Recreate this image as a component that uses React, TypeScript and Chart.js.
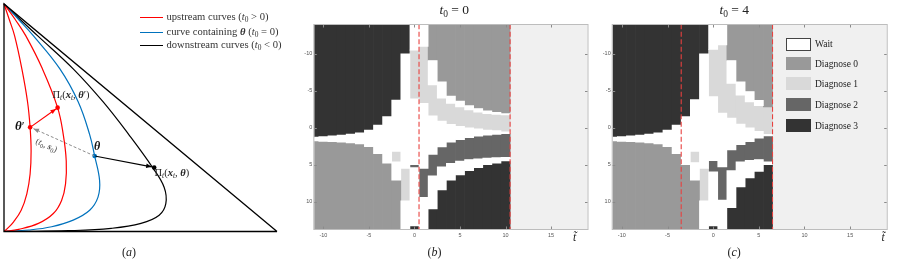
import React, { useEffect, useRef } from 'react';
import { Chart, registerables } from 'chart.js';
Chart.register(...registerables);

type P = [number, number];

// ---------------- panel (a): curves in the simplex ----------------
const triangleOutline: P[] = [[275, 0], [0, 0], [0, 230.5], [275, 0]];
const upstreamCurveInner: P[] = [[0, 230.5], [5.3, 214.8], [10.7, 198.2], [18, 164.8], [23.7, 131.5], [26.3, 105.5], [27.3, 81.5], [26.3, 58.2], [23, 38.2], [17.3, 21.5], [9.7, 9.8], [3, 2.6], [0, 0]];
const upstreamCurveOuter: P[] = [[0, 230.5], [11.3, 214.8], [22, 198.2], [38.7, 164.8], [54, 125.5], [59.7, 98.2], [62.7, 71.5], [62, 48.2], [58, 31.5], [49.7, 18.2], [34.7, 8.2], [14.7, 2.2], [0, 0]];
const thetaCurve: P[] = [[0, 230.5], [14.7, 214.8], [29.7, 198.2], [56.3, 164.8], [74.7, 131.5], [86.3, 98.2], [91.3, 76.5], [96.3, 51.5], [94.7, 34.8], [86.3, 21.5], [69.7, 11.5], [48, 4.8], [24.7, 1.5], [0, 0]];
const downstreamCurve: P[] = [[0, 230.5], [16.3, 214.8], [34, 198.2], [69.7, 164.8], [99.7, 131.5], [125.7, 98.2], [149.7, 64.8], [161.3, 44.8], [163, 28.2], [156.3, 16.5], [138, 8.2], [108, 3.2], [64.7, 0.8], [14.7, 0.1], [0, 0]];
const thetaPrimePoint: P = [26.3, 105.5];
const projThetaPrimePoint: P = [54, 125.5];
const thetaPoint: P = [91.3, 76.5];
const projThetaPoint: P = [151.3, 64.8];
const redArrow: P[] = [thetaPrimePoint, [52.3, 124.2]];
const blackArrow: P[] = [thetaPoint, [148.7, 65.5]];
const shiftArrow: P[] = [thetaPoint, [29.7, 104.2]];

// ---------------- panels (b), (c): policy maps ----------------
const categories = ['Wait', 'Diagnose 0', 'Diagnose 1', 'Diagnose 2', 'Diagnose 3'];
const categoryColors = ['#ffffff', '#999999', '#d9d9d9', '#666666', '#333333'];
const S_MIN = -14;
const S_MAX = 14;
const T_AXIS: P = [-11, 19];
const S_AXIS: P = [-13.9, 13.7];
const tTickValues = [-10, -5, 0, 5, 10, 15];
const sTickValues = [-10, -5, 0, 5, 10];
// each row: t, category, boundary s, category, boundary s, ..., category (top to bottom)
const policyT0Zero: number[][] = [
  [-11, 4, 1.25, 0, 1.8, 1],
  [-10, 4, 1.2, 0, 1.85, 1],
  [-9, 4, 1.1, 0, 1.9, 1],
  [-8, 4, 1.0, 0, 1.95, 1],
  [-7, 4, 0.85, 0, 2.05, 1],
  [-6, 4, 0.7, 0, 2.2, 1],
  [-5, 4, 0.3, 0, 2.55, 1],
  [-4, 4, -0.35, 0, 3.5, 1],
  [-3, 4, -1.5, 0, 4.8, 1],
  [-2, 4, -3.75, 0, 3.2, 2, 4.6, 0, 7.1, 1],
  [-1, 4, -10, 0, 5.5, 2, 9.9, 0],
  [0, 0, -10.5, 2, -3.9, 0, 5.0, 3, 5.4, 0, 13.3, 4],
  [1, 0, -11, 2, -3.3, 0, 5.5, 3, 9.4, 0],
  [2, 1, -9.1, 0, -5.8, 2, -1.6, 0, 3.6, 3, 6.5, 0, 11, 4],
  [3, 1, -6.2, 0, -4.0, 2, -0.9, 0, 2.6, 3, 5.3, 0, 8.4, 4],
  [4, 1, -4.3, 0, -3.3, 2, -0.45, 0, 1.95, 3, 4.8, 0, 7.1, 4],
  [5, 1, -3.6, 0, -2.8, 2, -0.2, 0, 1.6, 3, 4.5, 0, 6.4, 4],
  [6, 1, -3.0, 0, -2.4, 2, 0.0, 0, 1.35, 3, 4.3, 0, 5.8, 4],
  [7, 1, -2.6, 0, -2.1, 2, 0.15, 0, 1.15, 3, 4.2, 0, 5.4, 4],
  [8, 1, -2.3, 0, -1.9, 2, 0.3, 0, 1.0, 3, 4.1, 0, 5.0, 4],
  [9, 1, -2.1, 0, -1.8, 2, 0.4, 0, 0.9, 3, 4.05, 0, 4.8, 4],
  [10, 1, -1.9, 0, -1.75, 2, 0.55, 0, 0.8, 3, 4.0, 0, 4.5, 4],
];
const policyT0Four: number[][] = [
  [-11, 4, 1.25, 0, 1.8, 1],
  [-10, 4, 1.2, 0, 1.85, 1],
  [-9, 4, 1.1, 0, 1.9, 1],
  [-8, 4, 1.0, 0, 1.95, 1],
  [-7, 4, 0.85, 0, 2.05, 1],
  [-6, 4, 0.7, 0, 2.2, 1],
  [-5, 4, 0.3, 0, 2.55, 1],
  [-4, 4, -0.35, 0, 3.5, 1],
  [-3, 4, -1.5, 0, 5.0, 1],
  [-2, 4, -3.8, 0, 3.2, 2, 4.7, 0, 7.1, 1],
  [-1, 4, -10, 0, 5.5, 2, 9.9, 0],
  [0, 0, -10.6, 2, -4.2, 0, 4.45, 3, 5.95, 0, 13.3, 4],
  [1, 0, -11.2, 2, -2.0, 0, 5.3, 3, 9.8, 0],
  [2, 1, -9.1, 0, -6.0, 2, -1.3, 0, 3.0, 3, 5.8, 0, 10.8, 4],
  [3, 1, -6.2, 0, -4.4, 2, -0.5, 0, 2.3, 3, 4.6, 0, 8.0, 4],
  [4, 1, -4.9, 0, -3.5, 2, 0.0, 0, 1.9, 3, 4.4, 0, 6.8, 4],
  [5, 1, -3.7, 0, -3.0, 2, 0.5, 0, 1.4, 3, 4.3, 0, 5.9, 4],
  [6, 1, -2.8, 2, 0.9, 0, 1.1, 3, 4.6, 0, 5.0, 4],
];
const cutT0Zero = [0.5, 10.5];
const cutT0Four = [-3.5, 6.5];

function toSegments(rows: number[][]) {
  const segs: { c: number; t: number; lo: number; hi: number }[] = [];
  rows.forEach((row) => {
    const t = row[0];
    let lo = S_MIN;
    for (let i = 1; i < row.length; i += 2) {
      const hi = i + 1 < row.length ? row[i + 1] : S_MAX;
      segs.push({ c: row[i], t, lo, hi });
      lo = hi;
    }
  });
  return segs;
}

const frameAndTicks = {
  id: 'frameAndTicks',
  beforeDatasetsDraw(chart: any) {
    const { ctx, chartArea: a } = chart;
    ctx.save();
    ctx.fillStyle = '#f0f0f0';
    ctx.fillRect(a.left, a.top, a.right - a.left, a.bottom - a.top);
    ctx.restore();
  },
  afterDatasetsDraw(chart: any) {
    const { ctx, chartArea: a, scales } = chart;
    ctx.save();
    ctx.strokeStyle = '#bdbdbd';
    ctx.lineWidth = 1;
    ctx.strokeRect(a.left - 0.5, a.top - 0.5, a.right - a.left + 1, a.bottom - a.top + 1);
    ctx.strokeStyle = '#8a8a8a';
    ctx.beginPath();
    scales.x.ticks.forEach((tk: any) => {
      const px = Math.round(scales.x.getPixelForValue(tk.value)) + 0.5;
      ctx.moveTo(px, a.bottom); ctx.lineTo(px, a.bottom - 2.5);
      ctx.moveTo(px, a.top); ctx.lineTo(px, a.top + 2.5);
    });
    scales.y.ticks.forEach((tk: any) => {
      const py = Math.round(scales.y.getPixelForValue(tk.value)) + 0.5;
      ctx.moveTo(a.left, py); ctx.lineTo(a.left + 2.5, py);
      ctx.moveTo(a.right, py); ctx.lineTo(a.right - 2.5, py);
    });
    ctx.stroke();
    ctx.restore();
  },
};

const arrowHeads = {
  id: 'arrowHeads',
  afterDatasetsDraw(chart: any) {
    const ctx = chart.ctx;
    chart.data.datasets.forEach((ds: any, i: number) => {
      if (!ds.arrowHead) return;
      const pts = chart.getDatasetMeta(i).data;
      const p1 = pts[pts.length - 2];
      const p2 = pts[pts.length - 1];
      const ang = Math.atan2(p2.y - p1.y, p2.x - p1.x);
      const L = 5.5, W = 2.3;
      ctx.save();
      ctx.fillStyle = ds.borderColor;
      ctx.beginPath();
      ctx.moveTo(p2.x, p2.y);
      ctx.lineTo(p2.x - L * Math.cos(ang) + W * Math.sin(ang), p2.y - L * Math.sin(ang) - W * Math.cos(ang));
      ctx.lineTo(p2.x - L * Math.cos(ang) - W * Math.sin(ang), p2.y - L * Math.sin(ang) + W * Math.cos(ang));
      ctx.closePath();
      ctx.fill();
      ctx.restore();
    });
  },
};

function heatmapConfig(rows: number[][], cuts: number[], yWidth: number, rightPad: number): any {
  const segs = toSegments(rows);
  const datasets: any[] = categories.map((name, ci) => ({
    type: 'bar',
    label: name,
    data: segs.filter((s) => s.c === ci).map((s) => ({ x: s.t, y: [s.lo, s.hi] })),
    backgroundColor: categoryColors[ci],
    borderWidth: 0,
    barPercentage: 1,
    categoryPercentage: 1,
    grouped: false,
    order: 2,
  }));
  cuts.forEach((c) => {
    datasets.push({
      type: 'line',
      label: 'cut',
      data: [{ x: c, y: S_MIN }, { x: c, y: S_MAX }],
      borderColor: '#e8413f',
      borderWidth: 1.1,
      borderDash: [5, 2.5],
      pointRadius: 0,
      order: 0,
    });
  });
  const tickFont = { size: 5.5, family: 'Liberation Sans' };
  return {
    type: 'bar',
    data: { datasets },
    options: {
      animation: false,
      responsive: false,
      events: [],
      layout: { padding: { left: 0, top: 25, right: rightPad, bottom: 0 } },
      plugins: { legend: { display: false }, tooltip: { enabled: false } },
      scales: {
        x: {
          type: 'linear', min: T_AXIS[0], max: T_AXIS[1], offset: false,
          grid: { display: false, drawTicks: false, offset: false }, border: { display: false },
          ticks: { font: tickFont, color: '#555', padding: 3, maxRotation: 0, autoSkip: false },
          afterBuildTicks: (s: any) => { s.ticks = tTickValues.map((v) => ({ value: v })); },
          afterFit: (s: any) => { s.height = 30; },
        },
        y: {
          type: 'linear', reverse: true, min: S_AXIS[0], max: S_AXIS[1],
          grid: { display: false, drawTicks: false }, border: { display: false },
          ticks: { font: tickFont, color: '#555', padding: 2, autoSkip: false },
          afterBuildTicks: (s: any) => { s.ticks = sTickValues.map((v) => ({ value: v })); },
          afterFit: (s: any) => { s.width = yWidth; },
        },
      },
    },
    plugins: [frameAndTicks],
  };
}

function lineDs(pts: P[], color: string, extra: any = {}) {
  return {
    data: pts.map(([x, y]) => ({ x, y })),
    showLine: true,
    borderColor: color,
    backgroundColor: color,
    borderWidth: 1.2,
    pointRadius: 0,
    tension: 0,
    clip: false,
    ...extra,
  };
}

function simplexConfig(): any {
  const datasets: any[] = [
    lineDs(triangleOutline, '#000000', { borderWidth: 1.3 }),
    lineDs(upstreamCurveInner, '#ff0000', { tension: 0.4 }),
    lineDs(upstreamCurveOuter, '#ff0000', { tension: 0.4 }),
    lineDs(thetaCurve, '#0072bd', { tension: 0.4 }),
    lineDs(downstreamCurve, '#000000', { tension: 0.4 }),
    lineDs(redArrow, '#ff0000', { arrowHead: true }),
    lineDs(blackArrow, '#000000', { arrowHead: true }),
    lineDs(shiftArrow, '#8c8c8c', { arrowHead: true, borderDash: [3, 2], borderWidth: 1 }),
    lineDs([thetaPrimePoint, projThetaPrimePoint], '#ff0000', { showLine: false, pointRadius: 2.3, pointBorderWidth: 0 }),
    lineDs([thetaPoint], '#0072bd', { showLine: false, pointRadius: 2.3, pointBorderWidth: 0 }),
    lineDs([projThetaPoint], '#000000', { showLine: false, pointRadius: 2.3, pointBorderWidth: 0 }),
  ];
  return {
    type: 'scatter',
    data: { datasets },
    options: {
      animation: false,
      responsive: false,
      events: [],
      layout: { padding: { left: 2, top: 1, right: 23, bottom: 27.5 } },
      plugins: { legend: { display: false }, tooltip: { enabled: false } },
      scales: {
        x: { type: 'linear', min: 0, max: 275, display: false },
        y: { type: 'linear', min: 0, max: 230.5, display: false },
      },
    },
    plugins: [arrowHeads],
  };
}

const serif = '"Liberation Serif", "Times New Roman", serif';
const Sub = ({ children }: any) => (
  <span style={{ fontSize: '70%', position: 'relative', top: '0.3em' }}>{children}</span>
);
const I = ({ children }: any) => <span style={{ fontStyle: 'italic' }}>{children}</span>;
const BI = ({ children }: any) => <span style={{ fontStyle: 'italic', fontWeight: 'bold' }}>{children}</span>;

function abs(left: number, top: number, extra: any = {}): any {
  return { position: 'absolute', left, top, whiteSpace: 'nowrap', fontFamily: serif, lineHeight: '12px', ...extra };
}

function ChartCanvas({ make, left, width }: { make: () => any; left: number; width: number }) {
  const ref = useRef<HTMLCanvasElement | null>(null);
  useEffect(() => {
    const chart = new Chart(ref.current as HTMLCanvasElement, make());
    return () => chart.destroy();
  }, []);
  return (
    <canvas ref={ref} width={width} height={259} style={{ position: 'absolute', left, top: 0, width, height: 259 }} />
  );
}

export default function App() {
  const legendLines = [
    { color: '#ff0000', y: 17.3, text: <>upstream curves (<I>t</I><Sub>0</Sub> &gt; 0)</> },
    { color: '#0072bd', y: 32.3, text: <>curve containing <BI>θ</BI> (<I>t</I><Sub>0</Sub> = 0)</> },
    { color: '#000000', y: 45, text: <>downstream curves (<I>t</I><Sub>0</Sub> &lt; 0)</> },
  ];
  const boxRows = [37.7, 57.3, 77.3, 98.3, 119.3];
  return (
    <div style={{ position: 'fixed', left: 0, top: 0, width: 900, height: 259, background: '#fff', overflow: 'hidden' }}>
      <ChartCanvas make={simplexConfig} left={0} width={300} />
      <ChartCanvas make={() => heatmapConfig(policyT0Zero, cutT0Zero, 14.3, 12.5)} left={300} width={300} />
      <ChartCanvas make={() => heatmapConfig(policyT0Four, cutT0Four, 12.7, 13.3)} left={600} width={300} />

      {legendLines.map((l, i) => (
        <React.Fragment key={i}>
          <div style={{ position: 'absolute', left: 140, top: l.y - 0.5, width: 23, height: 0, borderTop: `1px solid ${l.color}` }} />
          <div style={abs(166.5, l.y - 6.5, { fontSize: 10.6, color: '#333' })}>{l.text}</div>
        </React.Fragment>
      ))}

      <div style={abs(15, 120, { fontSize: 13, color: '#111' })}><BI>θ</BI>′</div>
      <div style={abs(52.5, 89, { fontSize: 10.5, color: '#222' })}>Π<Sub><I>t</I></Sub>(<BI>x</BI><Sub><I>t</I></Sub>, <BI>θ</BI>′)</div>
      <div style={abs(94, 139.5, { fontSize: 12, color: '#111' })}><BI>θ</BI></div>
      <div style={abs(154.5, 166.5, { fontSize: 10.5, color: '#222' })}>Π<Sub><I>t</I></Sub>(<BI>x</BI><Sub><I>t</I></Sub>, <BI>θ</BI>)</div>
      <div style={abs(35, 139, { fontSize: 9, color: '#444', transform: 'rotate(24deg)', transformOrigin: 'center' })}>(<I>t</I><Sub>0</Sub>, <BI>s</BI><Sub>0</Sub>)</div>

      <div style={abs(122, 246, { fontSize: 12, color: '#222' })}>(<I>a</I>)</div>
      <div style={abs(427.5, 246, { fontSize: 12, color: '#222' })}>(<I>b</I>)</div>
      <div style={abs(727.5, 246, { fontSize: 12, color: '#222' })}>(<I>c</I>)</div>

      <div style={abs(439.5, 3, { fontSize: 13.5, color: '#222', lineHeight: '13px' })}><I>t</I><Sub>0</Sub> = 0</div>
      <div style={abs(719.5, 3, { fontSize: 13.5, color: '#222', lineHeight: '13px' })}><I>t</I><Sub>0</Sub> = 4</div>

      <div style={abs(573, 231, { fontSize: 11.5, color: '#222' })}><I>t̃</I></div>
      <div style={abs(881.5, 231, { fontSize: 11.5, color: '#222' })}><I>t̃</I></div>

      {categories.map((name, i) => (
        <React.Fragment key={name}>
          <div style={{ position: 'absolute', left: 786, top: boxRows[i], width: 25, height: 13, boxSizing: 'border-box', background: categoryColors[i], border: i === 0 ? '1px solid #444' : 'none' }} />
          <div style={abs(815, boxRows[i] + 0.5, { fontSize: 9.5, color: '#222' })}>{name}</div>
        </React.Fragment>
      ))}
    </div>
  );
}
